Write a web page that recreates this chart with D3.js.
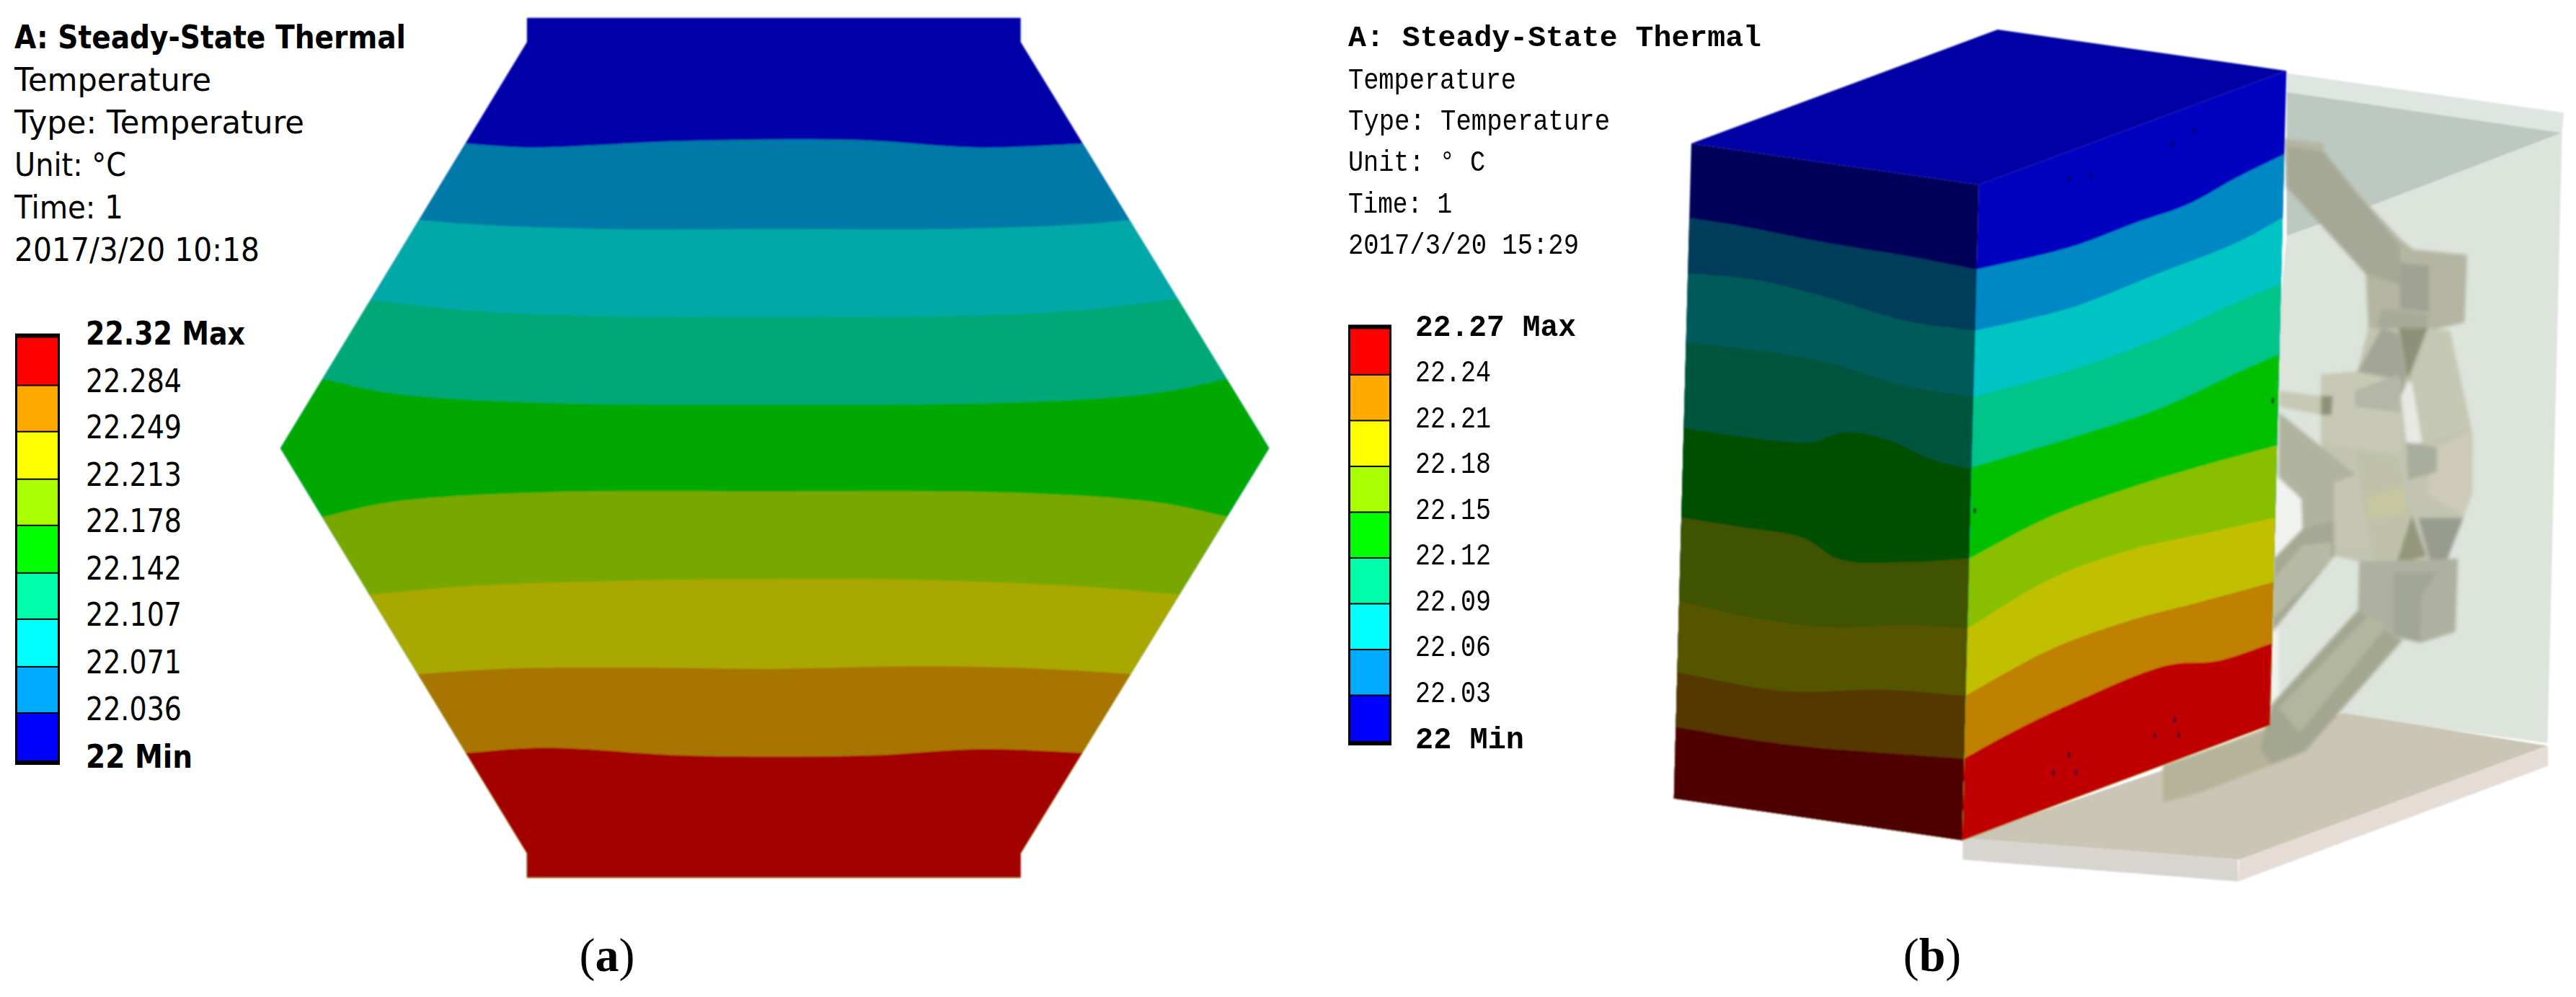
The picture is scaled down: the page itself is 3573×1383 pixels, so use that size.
<!DOCTYPE html>
<html>
<head>
<meta charset="utf-8">
<script src="https://cdn.jsdelivr.net/npm/d3@7/dist/d3.min.js"></script>
<style>html,body{margin:0;padding:0;background:#fff}svg{display:block}</style>
</head>
<body>
<script>
// ---------- DATA ----------
const infoA = ["A: Steady-State Thermal","Temperature","Type: Temperature","Unit: °C","Time: 1","2017/3/20 10:18"];
const infoB = ["A: Steady-State Thermal","Temperature","Type: Temperature","Unit: ° C","Time: 1","2017/3/20 15:29"];
const levelsA = [22,22.036,22.071,22.107,22.142,22.178,22.213,22.249,22.284,22.32];
const levelsB = [22,22.03,22.06,22.09,22.12,22.15,22.18,22.21,22.24,22.27];
const legendColors = ["#0000ff","#00aaff","#00ffff","#00ffaa","#00ff00","#aaff00","#ffff00","#ffaa00","#ff0000"];
const hexColors = ["#0000a8","#0078a8","#00a8a8","#00a878","#00a800","#78a800","#a8a800","#a87400","#a30000"];
const cubeLeftColors = ["#00005a","#003c5a","#005a5a","#00553c","#005000","#3f5200","#555500","#553800","#500000"];
const cubeRightColors = ["#0000c0","#0088c4","#00c4c4","#00c488","#00c000","#88c000","#c0c000","#c08000","#c00000"];
const cubeTopColor = "#0000a4";

// panel (a): hexagon cross-section, model units
const hexOutline = [[393,28],[1160,28],[1160,66],[1546,705],[1160,1342],[1160,1380],[393,1380],[393,1342],[10,705],[393,66]];
const hexContours = [
 [[302,226],[395,232],[630,222],[900,220],[1100,232],[1254,226]],
 [[228,346],[300,352],[500,360],[776,360],[1050,360],[1250,353],[1328,346]],
 [[152,472],[300,488],[500,497],[776,498],[1050,497],[1250,488],[1404,470]],
 [[78,596],[180,618],[400,633],[776,636],[1150,633],[1370,618],[1478,596]],
 [[80,812],[180,790],[400,775],[776,773],[1150,775],[1370,790],[1478,812]],
 [[152,935],[300,922],[600,912],[776,911],[1000,912],[1250,922],[1402,935]],
 [[228,1060],[350,1052],[550,1050],[776,1052],[1000,1048],[1200,1052],[1328,1060]],
 [[302,1184],[420,1176],[630,1188],[776,1190],[930,1188],[1100,1178],[1254,1184]]
];

// panel (b): heated block, model units
const cubeTop = [[80,238],[820,28],[1518,104],[775,314]];
const cubeLeft = [[80,238],[775,314],[735,1522],[38,1445]];
const cubeRight = [[775,314],[1518,104],[1478,1310],[735,1522]];
const leftContours = [
 [[75,375],[200,390],[400,420],[600,445],[770,470]],
 [[72,477],[240,490],[400,520],[600,565],[765,583]],
 [[68,605],[250,620],[400,640],[600,685],[760,705]],
 [[63,762],[200,778],[370,788],[450,770],[560,785],[660,820],[755,838]],
 [[58,928],[200,945],[350,965],[440,1005],[600,1010],[750,1003]],
 [[52,1082],[250,1115],[430,1130],[600,1125],[745,1132]],
 [[48,1213],[300,1247],[550,1245],[742,1256]],
 [[45,1314],[300,1345],[740,1372]]
];
const rightContours = [
 [[770,470],[1000,428],[1150,385],[1280,350],[1400,300],[1512,258]],
 [[766,583],[1000,540],[1200,480],[1400,420],[1508,375]],
 [[762,705],[1000,655],[1200,600],[1400,530],[1503,497]],
 [[757,835],[1000,780],[1200,730],[1400,660],[1498,627]],
 [[752,1003],[950,925],[1150,870],[1300,835],[1494,795]],
 [[747,1132],[950,1040],[1150,985],[1300,960],[1488,928]],
 [[742,1256],[950,1170],[1150,1115],[1300,1085],[1483,1047]],
 [[738,1372],[850,1325],[1000,1270],[1230,1200],[1350,1192],[1480,1160]]
];
const meshSpecks = [[993,303],[1045,298],[1242,238],[1295,215],[765,915],[1485,712],[955,1398],[1010,1397],[1200,1330],[1258,1328],[1248,1300],[993,1365]];

// transparent enclosure and fan bracket behind the block, model units
const enclosureShapes = [
 [[470,55],[1522,128],[1515,165],[470,90]],
 [[470,90],[1515,165],[800,298],[470,355]],
 [[470,355],[800,298],[1515,165],[1460,1290],[700,1240],[300,1220]],
 [[0,1340],[400,1260],[690,1235],[1460,1295],[290,1505],[-760,1465]],
 [[1462,1295],[1462,1332],[285,1545],[290,1505]],
 [[-760,1465],[285,1505],[285,1545],[-760,1505]]
];
const enclosureColors = ["#dfe6e2","#bcc8c0","#dde4dc","#cbc5b5","#e5dcd6","#d8d5d0"];
const bracketShapes = [
 [[430,800],[530,840],[530,895],[420,950]],
 [[410,1090],[440,1075],[440,1200],[410,1220]],
 [[780,525],[1090,530],[1175,720],[1175,830],[1120,900],[1040,1000],[745,955],[650,945],[600,735],[600,610],[735,610]],
 [[0,1330],[400,1265],[545,1290],[540,1305],[410,1330],[150,1380],[0,1400]],
 [[460,175],[610,185],[610,210],[900,360],[950,380],[1155,390],[1145,515],[1010,530],[780,525],[770,425],[470,265]],
 [[470,190],[610,200],[900,375],[900,445],[770,425],[470,265]],
 [[900,405],[1010,410],[1010,495],[900,490]],
 [[1010,525],[1090,530],[1165,710],[990,735],[945,620]],
 [[1040,745],[1165,715],[1175,830],[1140,870],[1000,830]],
 [[830,490],[1010,500],[1000,525],[810,525]],
 [[830,525],[895,535],[925,610],[905,650],[735,610]],
 [[895,525],[1005,525],[930,620]],
 [[930,625],[945,625],[985,735],[925,740],[905,650]],
 [[440,640],[600,650],[600,685],[440,670]],
 [[440,680],[730,795],[650,810],[650,945],[530,895],[525,840],[440,800]],
 [[650,810],[740,800],[780,925],[650,925]],
 [[420,950],[530,895],[650,880],[650,945],[415,1085]],
 [[425,985],[530,925],[640,920],[640,950],[420,1060]],
 [[600,610],[730,605],[900,620],[905,745],[890,760],[730,745],[600,735]],
 [[730,640],[895,610],[900,680],[730,670]],
 [[600,650],[645,650],[640,685],[600,685]],
 [[730,750],[890,760],[945,870],[885,950],[800,950],[770,880]],
 [[770,840],[920,815],[925,865],[775,880]],
 [[945,870],[1000,945],[885,960]],
 [[970,875],[1140,875],[1040,1000]],
 [[925,735],[1040,745],[1040,790],[930,805]],
 [[745,955],[1120,950],[1110,1085],[980,1105],[880,1095],[740,1050]],
 [[875,975],[1040,975],[980,1020],[975,1105],[875,1090]],
 [[740,1045],[880,1095],[910,1100],[540,1305],[410,1330],[370,1300],[410,1220]],
 [[440,1225],[780,1055],[850,1075],[520,1270]]
];
const bracketColors = ["#f1f3ef","#f1f3ef","#c2c4b0","#b5b39a","#b4b6a2","#a5a894","#a0a392","#c5c8b2","#cdcbb8","#a8aa98","#a3a696","#8e9178","#e6eae3","#c8c9b4","#b0b39e","#c6c5b3","#a5a892","#b7baa5","#c7c9b5","#b4b6a6","#8e9178","#bfc2a9","#c6c6a0","#94977c","#979c8f","#a9ad9b","#aeb19f","#a2a694","#a4a790","#b3b69f"];

// ---------- DRAW ----------
const W = 3573, H = 1383;
const svg = d3.select("body").append("svg").attr("width",W).attr("height",H).attr("viewBox",`0 0 ${W} ${H}`);
const defs = svg.append("defs");
defs.append("filter").attr("id","soft").attr("x","-5%").attr("y","-5%").attr("width","110%").attr("height","110%")
  .append("feGaussianBlur").attr("stdDeviation",1.1);
defs.append("filter").attr("id","softer").attr("x","-5%").attr("y","-5%").attr("width","110%").attr("height","110%")
  .append("feGaussianBlur").attr("stdDeviation",2.5);

// model-to-page scales
const hexX = d3.scaleLinear([0,1568],[380,1780]),  hexY = d3.scaleLinear([0,1568],[0,1383]);
const cubeX = d3.scaleLinear([0,1568],[2300,3200]), cubeY = d3.scaleLinear([0,1568],[20,1200]);
const encX = d3.scaleLinear([0,1568],[3000,3573]),  encY = d3.scaleLinear([0,1568],[60,1240]);

const polyPath = (sx,sy) => d3.line().x(d=>sx(d[0])).y(d=>sy(d[1]));
const closed = (gen,pts) => gen(pts) + "Z";

// continue a contour past its end along its last segment, then flat out to the panel's far sides
function extend(c,dx,xMin,xMax){
  const [a,b] = [c[0],c[1]], [p,q] = [c[c.length-2],c[c.length-1]];
  const left = [a[0]-dx, a[1]-(b[1]-a[1])/(b[0]-a[0])*dx];
  const right = [q[0]+dx, q[1]+(q[1]-p[1])/(q[0]-p[0])*dx];
  return [[xMin,left[1]],left].concat(c,[right,[xMax,right[1]]]);
}

function contourPanel(parent,id,outline,contours,colors,sx,sy){
  const gen = polyPath(sx,sy);
  defs.append("clipPath").attr("id",id).append("path").attr("d",closed(gen,outline));
  const xs = outline.map(d=>d[0]), ys = outline.map(d=>d[1]);
  const [x0,x1] = d3.extent(xs), yBottom = d3.max(ys)+50, yTop = d3.min(ys)-50;
  const area = d3.area().curve(d3.curveCatmullRom.alpha(0.5)).x(d=>sx(d[0])).y0(d=>sy(d[1])).y1(sy(yBottom));
  const bands = [[[x0-600,yTop],[x1+600,yTop]]].concat(contours.map(c=>extend(c,60,x0-600,x1+600)));
  parent.append("g").attr("clip-path",`url(#${id})`)
    .selectAll("path").data(bands).join("path")
    .attr("d",d=>area(d)).attr("fill",(d,i)=>colors[i]);
}

function infoBlock(lines,x,baselines,widths,family,size,boldSize){
  svg.append("g").selectAll("text").data(lines).join("text")
    .attr("x",x).attr("y",(d,i)=>baselines(i))
    .attr("font-family",family)
    .attr("font-size",(d,i)=>i===0?boldSize:size)
    .attr("font-weight",(d,i)=>i===0?"bold":"normal")
    .attr("textLength",(d,i)=>widths[i]).attr("lengthAdjust","spacingAndGlyphs")
    .attr("fill","#000").text(d=>d);
}

function legend(levels,yTop,yBottom,barX,barW,axisX,fmt,family,size,dy,widths){
  const y = d3.scaleLinear([levels[0],levels[levels.length-1]],[yBottom,yTop]);
  const g = svg.append("g");
  g.append("rect").attr("x",barX-3).attr("y",yTop-6).attr("width",barW+6).attr("height",yBottom-yTop+12).attr("fill","#000");
  g.selectAll("rect.cell").data(d3.pairs(levels)).join("rect").attr("class","cell")
    .attr("x",barX).attr("width",barW)
    .attr("y",d=>y(d[1])+(d[1]===levels[levels.length-1]?0:1))
    .attr("height",d=>y(d[0])-y(d[1])-(d[1]===levels[levels.length-1]||d[0]===levels[0]?1:2))
    .attr("fill",(d,i)=>legendColors[i]);
  const axis = d3.axisRight(y).tickValues(levels).tickSize(0).tickPadding(0).tickFormat(fmt);
  const ag = svg.append("g").attr("transform",`translate(${axisX},0)`).call(axis);
  ag.select(".domain").remove();
  ag.selectAll("text")
    .attr("dy",dy).attr("fill","#000")
    .attr("font-family",family).attr("font-size",size)
    .attr("font-weight",d=>(d===levels[0]||d===levels[levels.length-1])?"bold":"normal")
    .attr("textLength",d=>d===levels[levels.length-1]?widths[0]:d===levels[0]?widths[2]:widths[1])
    .attr("lengthAdjust","spacingAndGlyphs");
}

function maxMin(levels){
  return d => d===levels[levels.length-1] ? `${d} Max` : d===levels[0] ? `${d} Min` : String(d);
}

// panel (a)
const sans = "'DejaVu Sans',sans-serif", mono = "'Liberation Mono',monospace";
infoBlock(infoA,20,i=>i===0?67:126+(i-1)*59,[543,273,402,155,151,340],sans,44,44);
legend(levelsA,468.6,1055,24,56,119,maxMin(levelsA),sans,45,9,[221,133,148]);
contourPanel(svg.append("g").attr("filter","url(#soft)"),"hexClip",hexOutline,hexContours,hexColors,hexX,hexY);

// panel (b): enclosure and bracket first, block on top
const encGen = polyPath(encX,encY);
const encG = svg.append("g").attr("filter","url(#soft)");
encG.selectAll("path").data(enclosureShapes).join("path").attr("d",d=>closed(encGen,d)).attr("fill",(d,i)=>enclosureColors[i]);
const brG = svg.append("g").attr("filter","url(#softer)");
brG.selectAll("path").data(bracketShapes).join("path").attr("d",d=>closed(encGen,d)).attr("fill",(d,i)=>bracketColors[i]);

const cubeGen = polyPath(cubeX,cubeY);
const cubeG = svg.append("g").attr("filter","url(#soft)");
contourPanel(cubeG,"cubeLeftClip",cubeLeft,leftContours,cubeLeftColors,cubeX,cubeY);
contourPanel(cubeG,"cubeRightClip",cubeRight,rightContours,cubeRightColors,cubeX,cubeY);
cubeG.append("path").attr("d",closed(cubeGen,cubeTop)).attr("fill",cubeTopColor);
cubeG.selectAll("ellipse").data(meshSpecks).join("ellipse")
  .attr("cx",d=>cubeX(d[0])).attr("cy",d=>cubeY(d[1])).attr("rx",1.6).attr("ry",4).attr("fill","#000030");

infoBlock(infoB,1870,i=>i===0?64:123+(i-1)*57.2,[573,233,363,190,144,320],mono,40,40);
legend(levelsB,456.4,1028,1873,54,1963,maxMin(levelsB),mono,42,9,[223,105,151]);

// captions
function caption(cx,letter){
  const t = svg.append("text").attr("x",cx).attr("y",1347).attr("text-anchor","middle")
    .attr("font-family","'Liberation Serif',serif").attr("font-size",66).attr("fill","#000");
  t.append("tspan").text("(");
  t.append("tspan").attr("font-weight","bold").text(letter);
  t.append("tspan").text(")");
}
caption(842,"a");
caption(2680,"b");
</script>
</body>
</html>
